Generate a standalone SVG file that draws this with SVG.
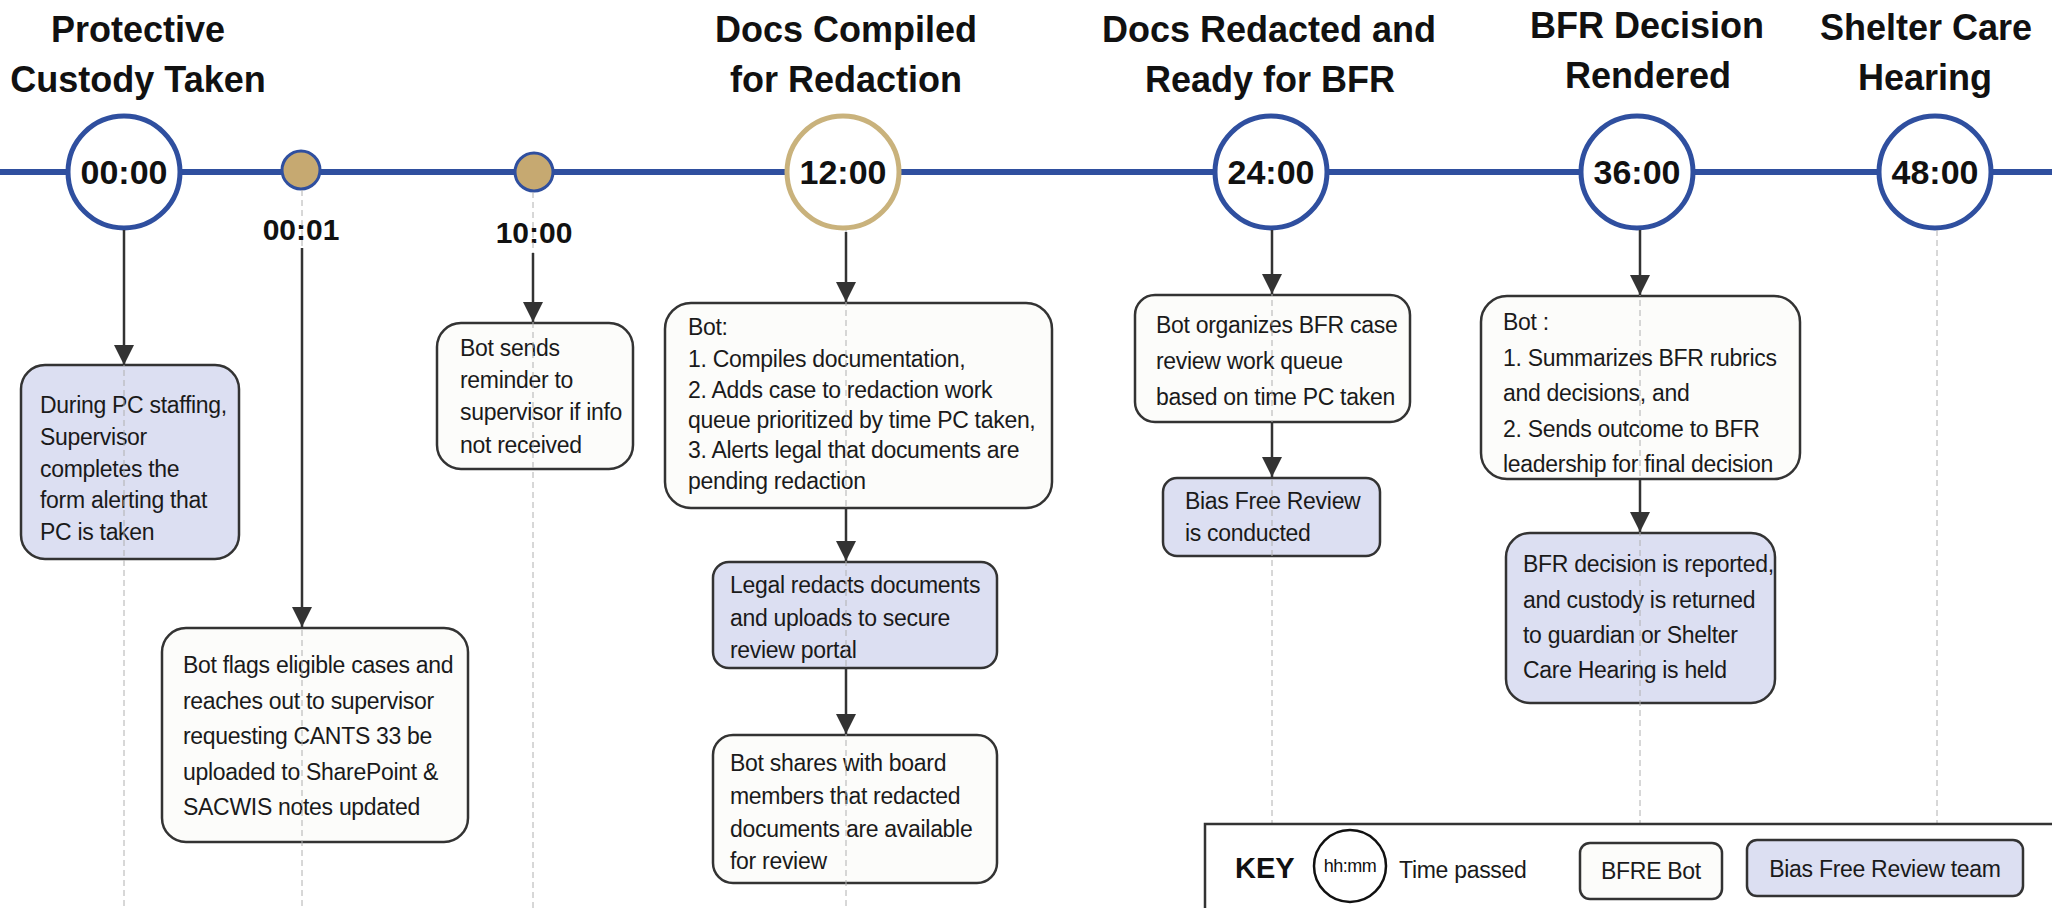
<svg xmlns="http://www.w3.org/2000/svg" width="2052" height="908" viewBox="0 0 2052 908">
<defs>
<marker id="ah" viewBox="0 0 20 20" refX="20" refY="10" markerWidth="20" markerHeight="20" markerUnits="userSpaceOnUse" orient="auto">
<path d="M0,0 L20,10 L0,20 z" fill="#333"/>
</marker>
<style>
.title{font-family:"Liberation Sans",Arial,sans-serif;font-weight:bold;font-size:36px;fill:#111;text-anchor:middle}
.clabel{font-family:"Liberation Sans",Arial,sans-serif;font-weight:bold;font-size:34px;fill:#111;text-anchor:middle}
.dlabel{font-family:"Liberation Sans",Arial,sans-serif;font-weight:bold;font-size:30px;fill:#111;text-anchor:middle}
.body{font-family:"Liberation Sans",Arial,sans-serif;font-size:23px;fill:#1a1a1a;letter-spacing:-0.3px}
.bot{fill:#fcfcfa;stroke:#333;stroke-width:2.5}
.team{fill:#dcdff2;stroke:#333;stroke-width:2.5}
.ring{fill:#fff;stroke:#2f4f9f;stroke-width:5}
.ringgold{fill:#fff;stroke:#c9b27c;stroke-width:5}
.dot{fill:#c6a971;stroke:#2f4f9f;stroke-width:3}
.conn{stroke:#333;stroke-width:2.5;fill:none;marker-end:url(#ah)}
.guide{stroke:#b0b0b0;stroke-width:1;stroke-dasharray:6 4;fill:none}
</style>
</defs>
<rect x="0" y="0" width="2052" height="908" fill="#fff"/>

<!-- timeline -->
<line x1="0" y1="172" x2="2052" y2="172" stroke="#2f4f9f" stroke-width="6"/>

<!-- titles -->
<g id="titles">
<text class="title" x="138" y="42">Protective</text>
<text class="title" x="138" y="92">Custody Taken</text>
<text class="title" x="846" y="42">Docs Compiled</text>
<text class="title" x="846" y="92">for Redaction</text>
<text class="title" x="1269" y="42">Docs Redacted and</text>
<text class="title" x="1270" y="92">Ready for BFR</text>
<text class="title" x="1647" y="38">BFR Decision</text>
<text class="title" x="1648" y="88">Rendered</text>
<text class="title" x="1926" y="40">Shelter Care</text>
<text class="title" x="1925" y="90">Hearing</text>
</g>

<!-- milestones -->
<g id="m0000"><circle class="ring" cx="124" cy="172" r="56"/><text class="clabel" x="124" y="184">00:00</text></g>
<g id="m0001"><circle class="dot" cx="301" cy="170" r="19"/><text class="dlabel" x="301" y="240">00:01</text></g>
<g id="m1000"><circle class="dot" cx="534" cy="172" r="19"/><text class="dlabel" x="534" y="243">10:00</text></g>
<g id="m1200"><circle class="ringgold" cx="843" cy="172" r="56"/><text class="clabel" x="843" y="184">12:00</text></g>
<g id="m2400"><circle class="ring" cx="1271" cy="172" r="56"/><text class="clabel" x="1271" y="184">24:00</text></g>
<g id="m3600"><circle class="ring" cx="1637" cy="172" r="56"/><text class="clabel" x="1637" y="184">36:00</text></g>
<g id="m4800"><circle class="ring" cx="1935" cy="172" r="56"/><text class="clabel" x="1935" y="184">48:00</text></g>

<!-- boxes -->
<g id="box-pc">
<rect class="team" x="21" y="365" width="218" height="194" rx="24"/>
<text class="body" x="40" y="413">During PC staffing,</text>
<text class="body" x="40" y="445">Supervisor</text>
<text class="body" x="40" y="477">completes the</text>
<text class="body" x="40" y="508">form alerting that</text>
<text class="body" x="40" y="540">PC is taken</text>
</g>
<g id="box-flags">
<rect class="bot" x="162" y="628" width="306" height="214" rx="24"/>
<text class="body" x="183" y="673">Bot flags eligible cases and</text>
<text class="body" x="183" y="709">reaches out to supervisor</text>
<text class="body" x="183" y="744">requesting CANTS 33 be</text>
<text class="body" x="183" y="780">uploaded to SharePoint &amp;</text>
<text class="body" x="183" y="815">SACWIS notes updated</text>
</g>
<g id="box-remind">
<rect class="bot" x="437" y="323" width="196" height="146" rx="24"/>
<text class="body" x="460" y="356">Bot sends</text>
<text class="body" x="460" y="388">reminder to</text>
<text class="body" x="460" y="420">supervisor if info</text>
<text class="body" x="460" y="453">not received</text>
</g>
<g id="box-compile">
<rect class="bot" x="665" y="303" width="387" height="205" rx="26"/>
<text class="body" x="688" y="335">Bot:</text>
<text class="body" x="688" y="367">1. Compiles documentation,</text>
<text class="body" x="688" y="398">2. Adds case to redaction work</text>
<text class="body" x="688" y="428">queue prioritized by time PC taken,</text>
<text class="body" x="688" y="458">3. Alerts legal that documents are</text>
<text class="body" x="688" y="489">pending redaction</text>
</g>
<g id="box-legal">
<rect class="team" x="713" y="562" width="284" height="106" rx="16"/>
<text class="body" x="730" y="593">Legal redacts documents</text>
<text class="body" x="730" y="626">and uploads to secure</text>
<text class="body" x="730" y="658">review portal</text>
</g>
<g id="box-share">
<rect class="bot" x="713" y="735" width="284" height="148" rx="20"/>
<text class="body" x="730" y="771">Bot shares with board</text>
<text class="body" x="730" y="804">members that redacted</text>
<text class="body" x="730" y="837">documents are available</text>
<text class="body" x="730" y="869">for review</text>
</g>
<g id="box-organize">
<rect class="bot" x="1135" y="295" width="275" height="127" rx="20"/>
<text class="body" x="1156" y="333">Bot organizes BFR case</text>
<text class="body" x="1156" y="369">review work queue</text>
<text class="body" x="1156" y="405">based on time PC taken</text>
</g>
<g id="box-bias">
<rect class="team" x="1163" y="478" width="217" height="78" rx="14"/>
<text class="body" x="1185" y="509">Bias Free Review</text>
<text class="body" x="1185" y="541">is conducted</text>
</g>
<g id="box-summ">
<rect class="bot" x="1481" y="296" width="319" height="183" rx="26"/>
<text class="body" x="1503" y="330">Bot :</text>
<text class="body" x="1503" y="366">1. Summarizes BFR rubrics</text>
<text class="body" x="1503" y="401">and decisions, and</text>
<text class="body" x="1503" y="437">2. Sends outcome to BFR</text>
<text class="body" x="1503" y="472">leadership for final decision</text>
</g>
<g id="box-decision">
<rect class="team" x="1506" y="533" width="269" height="170" rx="24"/>
<text class="body" x="1523" y="572">BFR decision is reported,</text>
<text class="body" x="1523" y="608">and custody is returned</text>
<text class="body" x="1523" y="643">to guardian or Shelter</text>
<text class="body" x="1523" y="678">Care Hearing is held</text>
</g>

<!-- connectors -->
<g id="connectors">
<line class="guide" x1="124" y1="230" x2="124" y2="908"/>
<line class="guide" x1="302" y1="190" x2="302" y2="908"/>
<line class="guide" x1="533" y1="192" x2="533" y2="908"/>
<line class="guide" x1="846" y1="230" x2="846" y2="908"/>
<line class="guide" x1="1272" y1="230" x2="1272" y2="824"/>
<line class="guide" x1="1640" y1="230" x2="1640" y2="908"/>
<line class="guide" x1="1937" y1="230" x2="1937" y2="824"/>
<line class="conn" x1="124" y1="230" x2="124" y2="365"/>
<line class="conn" x1="302" y1="248" x2="302" y2="627"/>
<line class="conn" x1="533" y1="253" x2="533" y2="322"/>
<line class="conn" x1="846" y1="232" x2="846" y2="302"/>
<line class="conn" x1="846" y1="508" x2="846" y2="561"/>
<line class="conn" x1="846" y1="668" x2="846" y2="734"/>
<line class="conn" x1="1272" y1="230" x2="1272" y2="294"/>
<line class="conn" x1="1272" y1="422" x2="1272" y2="477"/>
<line class="conn" x1="1640" y1="230" x2="1640" y2="295"/>
<line class="conn" x1="1640" y1="479" x2="1640" y2="532"/>
</g>

<!-- key -->
<g id="key">
<rect x="1205" y="824" width="860" height="120" fill="#fff" stroke="#333" stroke-width="2.5"/>
<text x="1235" y="878" style="font-family:'Liberation Sans',Arial,sans-serif;font-weight:bold;font-size:29px;fill:#111">KEY</text>
<circle cx="1350" cy="866" r="36" fill="#fff" stroke="#111" stroke-width="2.5"/>
<text x="1350" y="872" style="font-family:'Liberation Sans',Arial,sans-serif;font-size:18px;fill:#111;text-anchor:middle;letter-spacing:-0.5px">hh:mm</text>
<text class="body" x="1399" y="878">Time passed</text>
<rect class="bot" x="1580" y="843" width="142" height="56" rx="10"/>
<text class="body" x="1651" y="879" style="text-anchor:middle">BFRE Bot</text>
<rect class="team" x="1747" y="840" width="276" height="56" rx="10"/>
<text class="body" x="1885" y="877" style="text-anchor:middle">Bias Free Review team</text>
</g>
</svg>
